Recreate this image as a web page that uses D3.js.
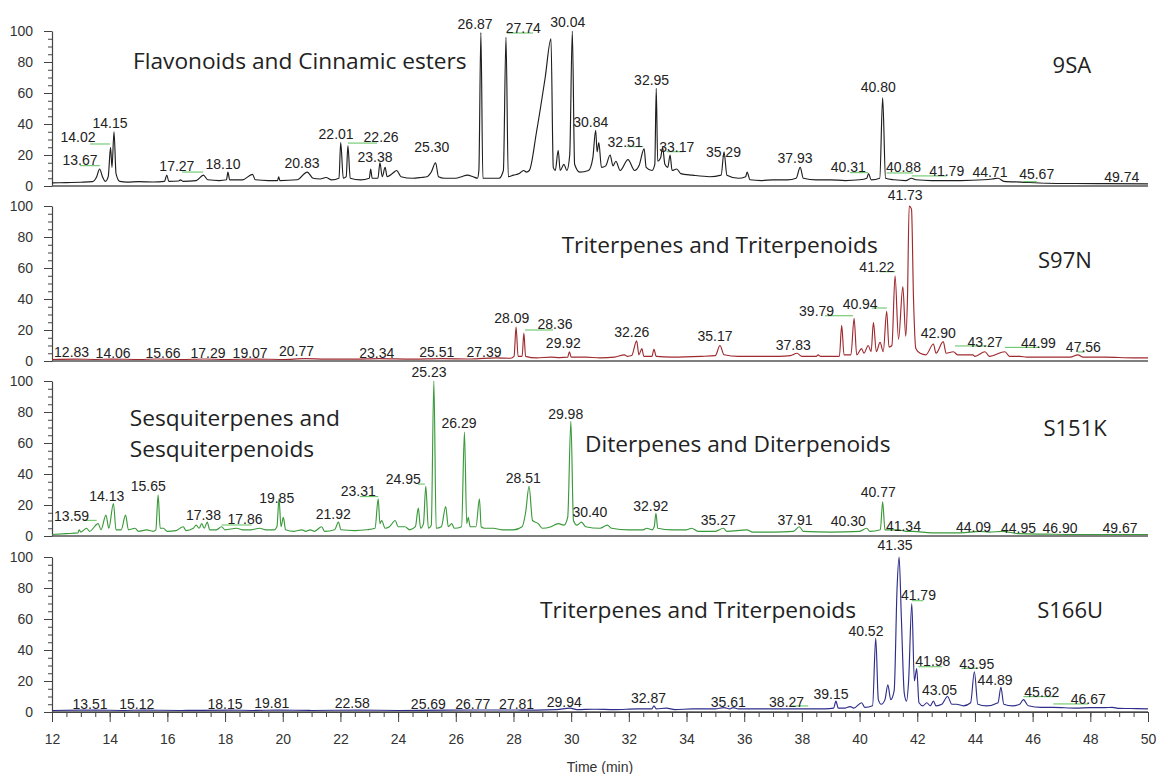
<!DOCTYPE html>
<html>
<head>
<meta charset="utf-8">
<script src="https://cdn.jsdelivr.net/npm/d3@7"></script>
<style>
  body { margin: 0; background: #fff; }
  .tick text { font-family: "Liberation Sans", Arial, sans-serif; font-size: 14px; fill: #333; }
  .peak-label { font-family: "Liberation Sans", Arial, sans-serif; font-size: 14px; fill: #222; }
  .class-label { font-family: "Open Sans", sans-serif; font-size: 22.7px; fill: #222; }
  .sample-label { font-family: "Open Sans", sans-serif; font-size: 22px; fill: #222; }
</style>
</head>
<body>
<div id="chart"></div>
<script>
// Axis values
var timeDomain = [12, 50];
var xTickValues = d3.range(12, 51, 2);
var yTickValues = [0, 20, 40, 60, 80, 100];

// Sample names (one panel each)
var sampleNames = ["9SA", "S97N", "S151K", "S166U"];

// Traces: [retention time (min), relative abundance (%)]
var trace9SA = [[12.0,2],[12.5,2.2],[13.0,2.4],[13.4,2.8],[13.55,6],[13.65,11],[13.75,6],[13.85,3],[13.95,6],[14.03,25],[14.08,12],[14.15,35],[14.22,8],[14.35,3],
  [14.6,2.5],[15.0,2.8],[15.5,2.6],[15.9,3],[15.98,7],[16.05,3],[16.4,3.2],[16.45,4],[16.55,3],[17.0,3.5],[17.25,7],[17.4,4],[17.8,3.5],[18.05,4],[18.1,9],[18.16,4],
  [18.6,4],[18.95,7.5],[19.05,4],[19.5,3.5],[19.82,3.5],[19.86,6],[19.9,3.5],[20.5,4],[20.85,9],[21.05,5],[21.3,4.5],[21.5,5.5],[21.7,4],[21.95,5],[22.01,28],[22.1,5],
  [22.2,6],[22.26,26],[22.34,5],[22.7,4],[23.0,5],[23.05,11],[23.1,5],[23.3,5],[23.37,15],[23.45,6],[23.55,12],[23.62,6],[23.8,8],[23.95,10],[24.1,6],[24.5,5],[24.8,5.5],
  [25.0,6],[25.15,9],[25.3,15],[25.4,6],[25.6,5],[26.0,5],[26.2,6],[26.4,7],[26.6,6],[26.75,5],[26.8,10],[26.87,99],[26.94,5],[27.2,5],[27.5,5],[27.65,10],[27.74,96],
  [27.82,6],[28.0,7],[28.2,8],[28.35,10],[28.45,9],[28.55,10],[28.8,35],[29.1,70],[29.3,95],[29.38,12],[29.45,10],[29.55,23],[29.62,10],[29.75,14],[29.85,10],[29.95,20],
  [30.04,100],[30.12,14],[30.3,9],[30.6,10],[30.75,18],[30.85,36],[30.9,22],[30.96,28],[31.05,12],[31.2,13],[31.35,20],[31.45,13],[31.55,16],[31.7,10],[31.97,17],
  [32.2,10],[32.35,13],[32.53,24],[32.6,12],[32.8,10],[32.9,14],[32.95,63],[33.0,16],[33.1,18],[33.17,25],[33.25,14],[33.35,12],[33.43,20],[33.5,10],[33.66,11],[33.8,8],
  [34.2,7],[34.8,6],[35.2,7],[35.3,22],[35.4,7],[35.8,5],[36.05,6],[36.1,9],[36.2,4],[36.6,3.5],[37.0,4],[37.5,4],[37.8,5],[37.94,12],[38.05,5],[38.5,4],[39.0,4],
  [39.5,3.5],[40.0,4],[40.25,5],[40.31,8],[40.4,4],[40.7,5],[40.8,57],[40.9,5],[41.2,4],[41.6,3.5],[41.8,5],[41.95,4],[42.5,3.5],[43.5,3.5],[44.3,4],[44.6,4.5],[44.8,5],
  [45.0,3],[45.6,2.5],[46.5,1.8],[47.5,1.6],[48.5,1.5],[50,1.4]];

var traceS97N = [[12,1],[12.83,1.2],[13.5,1],[14.06,1.2],[15,1],[15.66,1.3],[16.5,1],[17.29,1.3],[18,1],[19.07,1.2],[20,1],[20.77,1.5],[21.5,1.2],[22.5,1.2],[23.34,1.5],
  [24.5,1.2],[25.51,1.5],[26.5,1.3],[27.39,2],[27.9,1.8],[28.02,3],[28.09,22],[28.16,3],[28.3,3],[28.36,18],[28.42,3],[28.8,2],[29.3,2.5],[29.6,2.2],[29.88,2.5],[29.94,6],
  [30.0,2.5],[30.5,2.5],[31.0,2],[31.5,2.5],[31.85,4],[31.95,3],[32.1,3.5],[32.27,13],[32.35,4],[32.45,8],[32.52,3],[32.8,3],[32.87,7.5],[32.95,3],[33.5,2.5],[34.5,3],
  [35.0,3.5],[35.16,10],[35.3,4],[35.8,3],[36.5,3],[37.2,3],[37.6,3.5],[37.83,5],[38.0,3],[38.5,3],[38.56,4],[38.65,3],[39.3,3],[39.38,23],[39.46,4],[39.7,4],[39.81,27.5],
  [39.9,4],[40.07,8],[40.15,5],[40.3,10],[40.4,6],[40.48,25],[40.58,6],[40.71,12],[40.82,6],[40.94,32],[41.02,9],[41.12,10],[41.23,55],[41.35,14],[41.5,48],[41.6,16],
  [41.66,40],[41.72,100],[41.8,98],[41.87,40],[41.95,8],[42.1,5],[42.3,4],[42.56,11],[42.65,5],[42.9,12.5],[43.0,5],[43.25,6],[43.4,4],[43.93,4],[44.0,3],[44.35,6],
  [44.5,3],[45.04,6],[45.2,3],[45.56,3],[45.8,2.5],[46.5,2.5],[47.3,2.5],[47.57,4],[47.75,2.5],[48.5,2.5],[49.5,2],[50,2]];

var traceS151K = [[12,1],[12.5,1.5],[12.9,2],[12.94,4],[13.0,2.5],[13.2,5],[13.3,3],[13.6,8],[13.7,4],[13.87,13.5],[13.97,5],[14.13,21],[14.22,4],[14.4,4],[14.55,13.5],
  [14.65,4],[14.88,5],[15.0,3],[15.28,4],[15.5,3],[15.6,4],[15.68,26.5],[15.75,5],[15.86,5],[16.0,3],[16.3,3.5],[16.55,6],[16.65,3.5],[16.9,5],[17.0,7],[17.1,5],[17.19,8],
  [17.28,5],[17.38,9],[17.47,4],[17.7,4],[17.88,6],[18.0,4],[18.4,5],[18.6,4],[18.9,4],[19.2,5],[19.4,4],[19.7,4],[19.8,6],[19.87,24],[19.94,6],[20.02,12],[20.1,4],
  [20.4,3],[20.66,4],[20.8,3],[20.95,4],[21.1,3],[21.35,6],[21.45,3],[21.8,4],[21.93,9],[22.02,4],[22.5,3.5],[22.9,4],[23.2,5],[23.31,24],[23.37,8],[23.43,10],[23.55,5],
  [23.7,6],[23.9,10],[24.0,6],[24.24,6],[24.4,4],[24.6,6],[24.7,18],[24.78,5],[24.88,8],[24.96,32],[25.05,5],[25.15,7],[25.24,100],[25.32,5],[25.5,6],[25.65,19],[25.74,6],
  [25.86,8],[25.95,5],[26.2,6],[26.3,67],[26.38,8],[26.43,12],[26.5,6],[26.7,6],[26.82,24],[26.88,6],[27.0,5],[27.3,5],[27.6,4],[28.0,4],[28.3,6],[28.42,15],[28.54,32],
  [28.66,10],[28.86,8],[29.0,5],[29.3,6],[29.55,8],[29.75,7],[29.88,12],[29.99,74],[30.08,10],[30.2,7],[30.36,9],[30.5,6],[31.0,5],[31.25,7],[31.4,5],[32.0,4],[32.5,4],
  [32.62,5],[32.8,4],[32.88,6],[32.94,14.6],[33.0,5],[33.5,4],[34.0,4],[34.18,5],[34.4,3],[35.0,3],[35.28,5],[35.4,3],[36.09,4],[36.3,2.5],[37.0,2.5],[37.7,3],[37.91,6],
  [38.05,3],[39.0,2.5],[40.0,3],[40.25,5],[40.35,3],[40.72,4],[40.8,22],[40.88,4],[41.34,4],[41.6,3],[41.85,3],[42.5,2],[43.5,2],[44.18,3],[44.5,2.5],[44.95,3],[45.5,1.5],
  [46.5,1.2],[47.5,1],[49,1],[50,1]];

var traceS166U = [[12,1],[13.51,1.2],[14.5,1],[15.12,1.2],[16.5,1],[18.15,1.2],[19.0,1],[19.81,1.2],[21,1],[22.58,1.2],[24,1],[25.69,1.2],[26.77,1.3],[27.81,1.3],
  [28.8,1.2],[29.5,1.5],[29.96,2.5],[30.2,1.5],[30.8,1.8],[31.5,1.5],[32.3,2],[32.8,2],[32.87,4],[32.95,2],[33.3,2.5],[33.6,1.5],[34.2,2],[35.0,2],[35.3,2.8],[35.5,2],
  [35.61,2.8],[35.8,2],[36.5,2],[37.5,2],[38.27,2],[38.8,2],[39.1,2.5],[39.18,7],[39.26,2.5],[39.5,2.5],[39.67,3.5],[39.8,2.5],[40.07,6],[40.18,3],[40.45,4],[40.56,47.7],
  [40.65,8],[40.75,5],[40.88,8],[40.98,17.6],[41.08,8],[41.2,14],[41.3,80],[41.37,100],[41.45,60],[41.55,12],[41.63,7],[41.7,20],[41.81,70],[41.9,20],[41.98,28],[42.06,6],
  [42.2,4],[42.33,6],[42.45,4],[42.56,7],[42.65,4],[42.85,5],[43.05,10],[43.2,5],[43.36,5],[43.6,4],[43.85,6],[43.98,26],[44.1,5],[44.4,4],[44.8,6],[44.9,16],[45.0,5],
  [45.3,4],[45.55,5],[45.68,8],[45.85,4],[46.3,3],[46.72,3],[47.5,2.5],[48.0,2.8],[48.5,2.8],[48.76,3],[49.0,2.3],[49.6,2.2],[50,2]];

// Peak annotations: [text, time, abundance]
var labels9SA = [["13.67",12.97,16.8],["14.02",12.9,31.6],["14.15",14.01,40.6],["17.27",16.33,12.9],["18.10",17.93,14.2],["20.83",20.67,14.8],["22.01",21.85,33.5],
  ["22.26",23.41,31.6],["23.38",23.2,18.7],["25.30",25.17,25.2],["26.87",26.67,104.5],["27.74",28.34,101.9],["30.04",29.88,106],["30.84",30.68,41.5],["32.51",31.87,28.6],
  ["32.95",32.79,68.4],["33.17",33.66,25.4],["35.29",35.28,22.1],["37.93",37.76,18.1],["40.31",39.61,12.5],["40.80",40.65,64],["40.88",41.52,12.5],["41.79",43.02,9.9],
  ["44.71",44.52,9.2],["45.67",46.14,7.7],["49.74",49.09,6]];
var labelsS97N = [["12.83",12.68,6],["14.06",14.12,5.2],["15.66",15.85,5.2],["17.29",17.41,5.4],["19.07",18.87,5.4],["20.77",20.48,6.5],["23.34",23.26,5.4],
  ["25.51",25.34,6],["27.39",26.98,6],["28.09",27.94,27.9],["28.36",29.44,23.7],["29.92",29.73,11.4],["32.26",32.1,18.9],["35.17",34.99,16.3],["37.83",37.7,10.3],
  ["39.79",38.51,32.5],["40.94",40.02,36.8],["41.22",40.6,60.5],["41.73",41.58,107.1],["42.90",42.73,17.9],["43.27",44.35,12.5],["44.99",46.2,11.4],["47.56",47.76,8.8]];
var labelsS151K = [["13.59",12.68,13.1],["14.13",13.9,25.8],["15.65",15.34,32.3],["17.38",17.25,13.5],["17.86",18.69,11],["19.85",19.79,24.3],["21.92",21.75,14],
  ["23.31",22.62,29],["24.95",24.18,36.6],["25.23",25.07,106],["26.29",26.11,72.7],["28.51",28.34,37.2],["29.98",29.81,78.7],["30.40",30.65,15.7],["32.92",32.76,19.4],
  ["35.27",35.1,10.3],["37.91",37.76,10.3],["40.30",39.61,9.9],["40.77",40.65,28.2],["41.34",41.52,6.6],["44.09",43.95,5.6],["44.95",45.51,5],["46.90",46.95,5],["49.67",49.03,5]];
var labelsS166U = [["13.51",13.32,5],["15.12",14.94,5],["18.15",18.0,5],["19.81",19.62,5.6],["22.58",22.41,5.6],["25.69",25.05,5],["26.77",26.59,5],["27.81",28.11,5],
  ["29.94",29.76,6.6],["32.87",32.68,8.8],["35.61",35.45,6.6],["38.27",37.47,6.6],["39.15",39.01,11.6],["40.52",40.22,52.5],["41.35",41.23,107.7],["41.79",42.04,75.5],
  ["41.98",42.54,33.1],["43.05",42.77,14.2],["43.95",44.06,31],["44.89",44.7,20.6],["45.62",46.32,12.7],["46.67",47.93,8.4]];

// Green leader lines: [time from, time to, abundance]
var leaders9SA = [[12.97,13.66,13.1],[13.32,14.01,27.1],[16.51,17.24,9],[22.26,23.27,27.7],[27.77,28.68,98.7],[31.93,32.5,25.4],[33.31,33.89,22.1],
  [39.67,40.29,8.6],[40.94,41.86,8.4],[41.81,43.02,6.5],[45.68,46.14,2.8]];
var leadersS97N = [[28.4,29.37,20],[38.8,39.77,29.2],[40.42,40.94,34.2],[40.71,41.23,57.6],[43.31,44.41,9.7],[45.04,46.25,8.8],[47.57,47.8,5.8]];
var leadersS151K = [[13.14,13.55,10.1],[17.88,18.92,7.1],[22.68,23.31,25.4],[24.69,24.93,33.5]];
var leadersS166U = [[37.59,38.22,3.9],[41.81,42.21,71.8],[42.04,42.85,29.2],[43.54,44.12,28.2],[45.68,46.84,9.9],[46.72,47.93,5.2]];

// Compound class captions: [text, time, abundance]
var classes9SA = [["Flavonoids and Cinnamic esters",14.81,80.8]];
var classesS97N = [["Triterpenes and Triterpenoids",29.67,74.8]];
var classesS151K = [["Sesquiterpenes and",14.7,76.3],["Sesquiterpenoids",14.7,55.9],["Diterpenes and Diterpenoids",30.48,59.2]];
var classesS166U = [["Triterpenes and Triterpenoids",28.92,65.8]];

// Sample caption anchor: [time, abundance]
var samplePos = [[47.36,78],[47.12,65.2],[47.47,69.5],[47.3,65.8]];

var traceColors = ["#1e1e1e", "#9e2a2f", "#3a9a3a", "#2e2e8a"];

var svgWidth = 1157, svgHeight = 774;
var plotLeft = 52, plotRight = 1148;
var panelBases = [186, 361, 536, 712];
var panelHeight = 155;

var panels = [
  { trace: trace9SA, labels: labels9SA, leaders: leaders9SA, classes: classes9SA },
  { trace: traceS97N, labels: labelsS97N, leaders: leadersS97N, classes: classesS97N },
  { trace: traceS151K, labels: labelsS151K, leaders: leadersS151K, classes: classesS151K },
  { trace: traceS166U, labels: labelsS166U, leaders: leadersS166U, classes: classesS166U }
];

var svg = d3.select("#chart").append("svg")
  .attr("width", svgWidth)
  .attr("height", svgHeight)
  .style("background", "#fff");

var xScale = d3.scaleLinear().domain(timeDomain).range([plotLeft, plotRight]);

panels.forEach(function(p, i) {
  var base = panelBases[i];
  var yScale = d3.scaleLinear().domain([0, 100]).range([base, base - panelHeight]);
  var g = svg.append("g").attr("class", "panel");

  // minor y ticks
  g.append("g")
    .attr("transform", `translate(${plotLeft},0)`)
    .call(d3.axisLeft(yScale).tickValues(d3.range(0, 101, 5)).tickSize(4).tickFormat(""))
    .call(s => s.select(".domain").remove())
    .call(s => s.selectAll("line").attr("stroke", "#444"));

  // major y ticks
  g.append("g")
    .attr("transform", `translate(${plotLeft},0)`)
    .call(d3.axisLeft(yScale).tickValues(yTickValues).tickSize(8).tickPadding(11).tickSizeOuter(0))
    .call(s => s.select(".domain").attr("stroke", "#444").attr("stroke-width", 1.2))
    .call(s => s.selectAll("line").attr("stroke", "#444"));

  // baseline
  g.append("line")
    .attr("x1", plotLeft).attr("x2", plotRight)
    .attr("y1", base).attr("y2", base)
    .attr("stroke", "#555").attr("stroke-width", 1.4);

  // trace
  var line = d3.line()
    .x(d => xScale(d[0]))
    .y(d => yScale(d[1]))
    .curve(d3.curveMonotoneX);

  g.append("path")
    .datum(p.trace)
    .attr("d", line)
    .attr("fill", "none")
    .attr("stroke", traceColors[i])
    .attr("stroke-width", 1.15)
    .attr("stroke-linejoin", "round");

  // green leaders
  g.selectAll(".leader").data(p.leaders).enter()
    .append("line")
    .attr("class", "leader")
    .attr("x1", d => xScale(d[0])).attr("x2", d => xScale(d[1]))
    .attr("y1", d => yScale(d[2])).attr("y2", d => yScale(d[2]))
    .attr("stroke", "#5cc15c").attr("stroke-width", 1);

  // peak labels
  g.selectAll(".peak-label").data(p.labels).enter()
    .append("text")
    .attr("class", "peak-label")
    .attr("x", d => xScale(d[1]))
    .attr("y", d => yScale(d[2]))
    .attr("dy", "0.35em")
    .attr("text-anchor", "middle")
    .text(d => d[0]);

  // class captions
  g.selectAll(".class-label").data(p.classes).enter()
    .append("text")
    .attr("class", "class-label")
    .attr("x", d => xScale(d[1]))
    .attr("y", d => yScale(d[2]))
    .attr("dy", "0.35em")
    .text(d => d[0]);

  // sample name
  g.append("text")
    .attr("class", "sample-label")
    .attr("x", xScale(samplePos[i][0]))
    .attr("y", yScale(samplePos[i][1]))
    .attr("dy", "0.35em")
    .attr("text-anchor", "middle")
    .text(sampleNames[i]);
});

// bottom time axis
var bottom = panelBases[3];
svg.append("g")
  .attr("transform", `translate(0,${bottom})`)
  .call(d3.axisBottom(xScale).tickValues(d3.range(12, 50.01, 0.5)).tickSize(5).tickFormat(""))
  .call(s => s.select(".domain").remove())
  .call(s => s.selectAll("line").attr("stroke", "#444"));

svg.append("g")
  .attr("transform", `translate(0,${bottom})`)
  .call(d3.axisBottom(xScale).tickValues(xTickValues).tickSize(10).tickPadding(12).tickSizeOuter(0))
  .call(s => s.select(".domain").attr("stroke", "#444").attr("stroke-width", 1.2))
  .call(s => s.selectAll("line").attr("stroke", "#444"));

svg.append("text")
  .attr("x", 600)
  .attr("y", 767)
  .attr("dy", "0.35em")
  .attr("text-anchor", "middle")
  .style("font-family", "Liberation Sans, Arial, sans-serif")
  .style("font-size", "14px")
  .style("fill", "#333")
  .text("Time (min)");
</script>
</body>
</html>
